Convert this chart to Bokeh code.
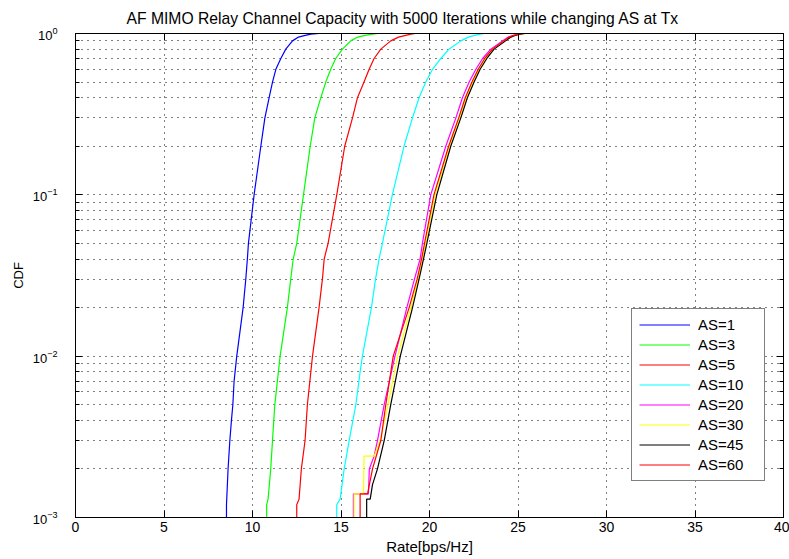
from bokeh.plotting import figure
from bokeh.models import (FixedTicker, LogAxis, LinearAxis, Legend, LegendItem,
                          LogTickFormatter, Range1d, CustomJSTickFormatter)
from bokeh.embed import file_html
from bokeh.resources import INLINE

title_text = "AF MIMO Relay Channel Capacity with 5000 Iterations while changing AS at Tx"
x_label = "Rate[bps/Hz]"
y_label = "CDF"
x_ticks = [0, 5, 10, 15, 20, 25, 30, 35, 40]
y_ticks = [0.001, 0.01, 0.1, 1.0]
y_minor_mantissas = [2, 3, 4, 5, 6, 7, 8, 9]

labels = ["AS=1", "AS=3", "AS=5", "AS=10", "AS=20", "AS=30", "AS=45", "AS=60"]
colors = ["#0000ff", "#00ff00", "#ff0000", "#00ffff", "#ff00ff", "#ffff00", "#000000", "#ff0000"]

as1_rate = [8.53, 8.53, 8.62, 8.72, 8.81, 8.89, 8.96, 9.11, 9.47, 9.62, 9.71, 9.77, 10.09, 10.47, 10.70,
            10.94, 11.13, 11.32, 11.60, 11.88, 12.26, 12.60, 12.92, 13.30, 13.75, 17.10]
as1_cdf = [0.0008, 0.0012, 0.002, 0.003, 0.004, 0.005, 0.007, 0.01, 0.02, 0.03, 0.04, 0.05, 0.1, 0.2, 0.3,
           0.4, 0.5, 0.6, 0.7, 0.8, 0.9, 0.95, 0.97, 0.99, 1.0, 1.0]

as3_rate = [10.80, 10.80, 10.88, 11.03, 11.13, 11.26, 11.56, 11.97, 12.16, 12.30, 12.50, 12.88, 13.26, 13.52,
            13.86, 14.14, 14.42, 14.70, 15.08, 15.55, 15.95, 16.30, 16.75, 17.10, 19.50]
as3_cdf = [0.0008, 0.0012, 0.0013, 0.002, 0.003, 0.005, 0.01, 0.02, 0.03, 0.04, 0.05, 0.1, 0.2, 0.3,
           0.4, 0.5, 0.6, 0.7, 0.8, 0.9, 0.95, 0.97, 0.99, 1.0, 1.0]

as5_rate = [12.50, 12.50, 12.63, 12.76, 12.97, 13.10, 13.39, 13.76, 13.95, 14.05, 14.27, 14.76, 15.21, 15.65,
            15.93, 16.30, 16.59, 16.87, 17.25, 17.81, 18.25, 18.60, 18.95, 19.20, 21.20]
as5_cdf = [0.0008, 0.0012, 0.0013, 0.002, 0.003, 0.005, 0.01, 0.02, 0.03, 0.04, 0.05, 0.1, 0.2, 0.3,
           0.4, 0.5, 0.6, 0.7, 0.8, 0.9, 0.95, 0.97, 0.99, 1.0, 1.0]

as10_rate = [14.76, 14.76, 14.95, 15.18, 15.46, 15.84, 16.08, 16.21, 16.72, 16.95, 17.15, 17.34, 17.90, 18.56,
             19.04, 19.41, 19.79, 20.17, 20.64, 21.10, 21.77, 22.20, 22.50, 22.85, 23.08, 25.30]
as10_cdf = [0.0008, 0.0012, 0.0013, 0.002, 0.003, 0.005, 0.008, 0.01, 0.02, 0.03, 0.04, 0.05, 0.1, 0.2,
            0.3, 0.4, 0.5, 0.6, 0.7, 0.8, 0.9, 0.95, 0.97, 0.99, 1.0, 1.0]

as20_rate = [15.70, 15.70, 16.55, 16.60, 16.87, 17.06, 17.44, 18.05, 18.72, 19.15, 19.47, 19.60, 20.07, 20.92,
             21.49, 21.86, 22.24, 22.62, 23.00, 23.46, 24.12, 24.45, 24.69, 25.00, 25.30, 25.60]
as20_cdf = [0.0008, 0.0014, 0.0014, 0.002, 0.0024, 0.003, 0.005, 0.01, 0.02, 0.03, 0.04, 0.05, 0.1, 0.2,
            0.3, 0.4, 0.5, 0.6, 0.7, 0.8, 0.9, 0.95, 0.97, 0.99, 1.0, 1.0]

as30_rate = [15.74, 15.74, 16.27, 16.30, 16.87, 17.21, 17.66, 18.20, 18.95, 19.35, 19.60, 19.78, 20.32, 21.12,
             21.70, 22.08, 22.45, 22.80, 23.18, 23.60, 24.25, 24.55, 24.77, 25.05, 25.35, 25.70]
as30_cdf = [0.0008, 0.0014, 0.0014, 0.0024, 0.0024, 0.003, 0.005, 0.01, 0.02, 0.03, 0.04, 0.05, 0.1, 0.2,
            0.3, 0.4, 0.5, 0.6, 0.7, 0.8, 0.9, 0.95, 0.97, 0.99, 1.0, 1.0]

as45_rate = [16.45, 16.45, 16.65, 16.78, 17.06, 17.44, 17.81, 18.35, 19.04, 19.41, 19.66, 19.85, 20.41, 21.20,
             21.77, 22.14, 22.52, 22.86, 23.24, 23.65, 24.30, 24.60, 24.80, 25.10, 25.40, 25.80]
as45_cdf = [0.0008, 0.0013, 0.0013, 0.0016, 0.002, 0.003, 0.005, 0.01, 0.02, 0.03, 0.04, 0.05, 0.1, 0.2,
            0.3, 0.4, 0.5, 0.6, 0.7, 0.8, 0.9, 0.95, 0.97, 0.99, 1.0, 1.0]

as60_rate = [16.08, 16.08, 16.50, 16.78, 17.25, 17.53, 17.95, 18.85, 19.30, 19.55, 19.72, 20.25, 21.08, 21.65,
             22.02, 22.40, 22.75, 23.12, 23.55, 24.20, 24.50, 24.73, 25.02, 25.35, 27.40]
as60_cdf = [0.0008, 0.0014, 0.0014, 0.002, 0.003, 0.005, 0.01, 0.02, 0.03, 0.04, 0.05, 0.1, 0.2, 0.3,
            0.4, 0.5, 0.6, 0.7, 0.8, 0.9, 0.95, 0.97, 0.99, 1.0, 1.0]

series = [(as1_rate, as1_cdf), (as3_rate, as3_cdf), (as5_rate, as5_cdf), (as10_rate, as10_cdf),
          (as20_rate, as20_cdf), (as30_rate, as30_cdf), (as45_rate, as45_cdf), (as60_rate, as60_cdf)]

FONT = "Liberation Sans"

p = figure(width=789, height=559, x_range=Range1d(0, 40), y_range=Range1d(0.001, 1.0),
           y_axis_type="log", output_backend="svg", toolbar_location=None,
           min_border_left=75, min_border_right=6, min_border_top=33, min_border_bottom=42)
p.background_fill_color = "white"
p.border_fill_color = "white"
p.outline_line_color = "black"
p.outline_line_width = 1

p.title.text = title_text
p.title.text_font = FONT
p.title.text_font_size = "15.7px"
p.title.text_font_style = "normal"
p.title.text_color = "black"
p.title.align = "left"
p.title.offset = 51
p.title.standoff = 13

minor = [m * d for d in y_ticks[:-1] for m in y_minor_mantissas]
xt = FixedTicker(ticks=x_ticks, minor_ticks=[])
yt = FixedTicker(ticks=y_ticks, minor_ticks=minor)

xa = p.xaxis[0]
ya = p.yaxis[0]
xa.ticker = xt
ya.ticker = yt
ya.formatter = LogTickFormatter()

for ax in (xa, ya):
    ax.axis_line_color = "black"
    ax.major_tick_line_color = "black"
    ax.minor_tick_line_color = "black"
    ax.major_tick_in = 7
    ax.major_tick_out = 0
    ax.minor_tick_in = 4
    ax.minor_tick_out = 0
    ax.major_label_text_color = "black"
    ax.major_label_text_font = FONT
    ax.axis_label_text_font = FONT
    ax.axis_label_text_font_style = "normal"
    ax.axis_label_text_color = "black"

xa.axis_label = x_label
xa.major_label_text_font_size = "14px"
xa.axis_label_text_font_size = "15px"
xa.major_label_standoff = 4
xa.axis_label_standoff = 3

ya.axis_label = y_label
ya.major_label_text_font_size = "13px"
ya.axis_label_text_font_size = "13px"
ya.major_label_standoff = 18
ya.axis_label_standoff = 4

blank = CustomJSTickFormatter(code="return ''")
top = LinearAxis(ticker=xt, formatter=blank)
right = LogAxis(ticker=yt, formatter=blank)
for ax in (top, right):
    ax.axis_line_color = "black"
    ax.major_tick_line_color = "black"
    ax.minor_tick_line_color = "black"
    ax.major_tick_in = 7
    ax.major_tick_out = 0
    ax.minor_tick_in = 4
    ax.minor_tick_out = 0
    ax.major_label_standoff = 0
    ax.major_label_text_font_size = "1px"
p.add_layout(top, "above")
p.add_layout(right, "right")

p.xgrid.ticker = xt
p.ygrid.ticker = yt
p.xgrid.grid_line_color = "black"
p.xgrid.grid_line_dash = "1 5"
p.ygrid.grid_line_color = "black"
p.ygrid.grid_line_dash = "1 5"
p.ygrid.minor_grid_line_color = "black"
p.ygrid.minor_grid_line_dash = "1 5"

items = []
for (rate, cdf), lab, col in zip(series, labels, colors):
    r = p.line(rate, cdf, line_color=col, line_width=1.2)
    items.append(LegendItem(label=lab, renderers=[r]))

legend = Legend(items=items, location=(556, 36))
legend.margin = 0
legend.padding = 7
legend.spacing = 3
legend.glyph_width = 51
legend.glyph_height = 17
legend.label_height = 17
legend.label_width = 59
legend.label_standoff = 8
legend.label_text_font = FONT
legend.label_text_font_size = "15px"
legend.label_text_color = "black"
legend.border_line_color = "black"
legend.border_line_width = 1
legend.background_fill_color = "white"
legend.background_fill_alpha = 1.0
p.add_layout(legend)

open("out.html", "w").write(file_html(p, INLINE))
